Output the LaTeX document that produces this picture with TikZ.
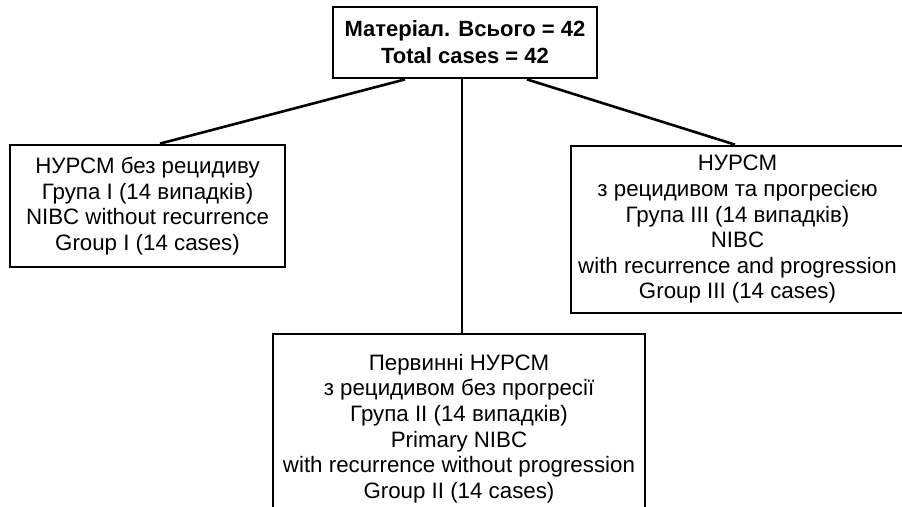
\documentclass[tikz,border=0pt]{standalone}
\usepackage{fontspec}
\setmainfont{Liberation Sans}
\begin{document}
\begin{tikzpicture}[x=1pt,y=-1pt,
  box/.style={draw=black, line width=2.8pt, rectangle, inner sep=0pt, align=center,
    font=\fontsize{22.3}{25.6}\selectfont},
  topbox/.style={box, font=\fontsize{22}{27}\selectfont\bfseries},
  link/.style={line width=2.6pt}]
\useasboundingbox (0,0) rectangle (902,506);
\clip (0,0) rectangle (902,506);
\fill[white] (0,0) rectangle (902,506);
\node[topbox, minimum width=264pt, minimum height=71pt] (top) at (465,42.5)
  {Матеріал. Всього = 42\\Total cases = 42};
\node[box, minimum width=275pt, minimum height=122pt] (g1) at (147.5,206)
  {НУРСМ без рецидиву\\Група I (14 випадків)\\NIBC without recurrence\\Group I (14 cases)};
\node[box, minimum width=333pt, minimum height=167pt] (g3) at (737.5,229.5)
  {НУРСМ\\з рецидивом та прогресією\\Група III (14 випадків)\\NIBC\\with recurrence and progression\\Group III (14 cases)};
\node[box, minimum width=372pt, minimum height=189pt] (g2) at (459,428.5)
  {Первинні НУРСМ\\з рецидивом без прогресії\\Група II (14 випадків)\\Primary NIBC\\with recurrence without progression\\Group II (14 cases)};
\draw[link] ([xshift=-60pt]top.south) -- ([xshift=12.5pt]g1.north);
\draw[link] ([xshift=62pt]top.south) -- ([xshift=-2.5pt]g3.north);
\draw[link] ([xshift=-3pt]top.south) -- ([xshift=3pt]g2.north);
\end{tikzpicture}
\end{document}
